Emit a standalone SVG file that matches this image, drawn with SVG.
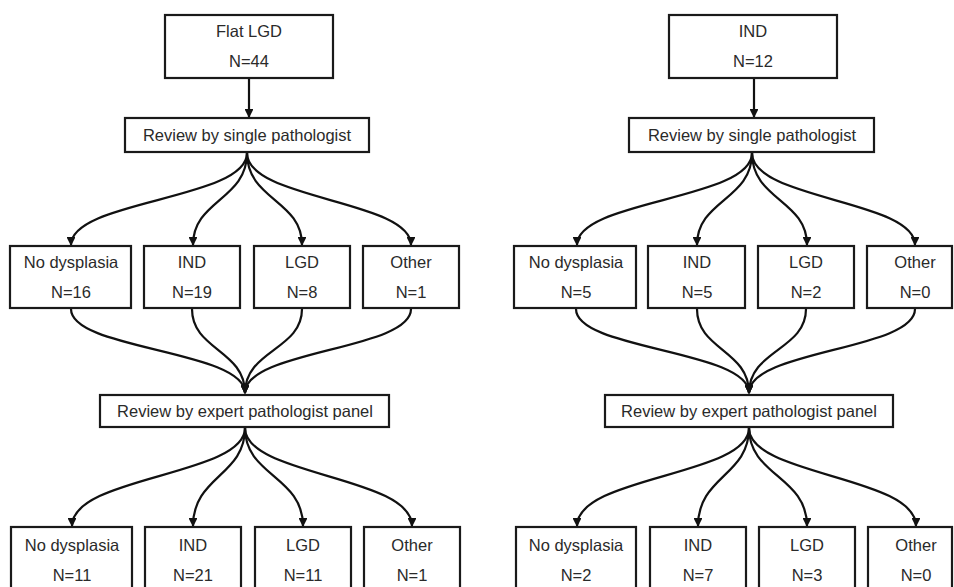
<svg xmlns="http://www.w3.org/2000/svg" width="954" height="587" viewBox="0 0 954 587">
<style>
.box{fill:#fff;stroke:#1a1a1a;stroke-width:2.2}
.t{font-family:"Liberation Sans",Arial,sans-serif;font-size:16.5px;fill:#2a2a2a;text-anchor:middle}
.c{fill:none;stroke:#111;stroke-width:2.2;marker-end:url(#ah)}
</style>
<defs>
<marker id="ah" viewBox="0 0 10 10" refX="9" refY="5" markerWidth="4" markerHeight="4" orient="auto" markerUnits="strokeWidth">
<path d="M0,0 L10,5 L0,10 z" fill="#111"/>
</marker>
</defs>
<rect width="954" height="587" fill="#fff"/>
<g id="connectors">
<!-- left -->
<path class="c" d="M249,79 L249,117"/>
<path class="c" d="M247,153 C247,200 71,200 71,245"/>
<path class="c" d="M247,153 C247,200 193,200 193,245"/>
<path class="c" d="M247,153 C247,200 302,200 302,245"/>
<path class="c" d="M247,153 C247,200 411,200 411,245"/>
<path class="c" d="M71,309 C71,350 245,350 245,393"/>
<path class="c" d="M192,309 C192,350 245,350 245,393"/>
<path class="c" d="M302,309 C302,350 245,350 245,393"/>
<path class="c" d="M411,309 C411,350 245,350 245,393"/>
<path class="c" d="M245,428 C245,476 72,476 72,526"/>
<path class="c" d="M245,428 C245,476 193,476 193,526"/>
<path class="c" d="M245,428 C245,476 303,476 303,526"/>
<path class="c" d="M245,428 C245,476 412,476 412,526"/>
<!-- right -->
<path class="c" d="M754,79 L754,117"/>
<path class="c" d="M752,153 C752,200 577,200 577,245"/>
<path class="c" d="M752,153 C752,200 697,200 697,245"/>
<path class="c" d="M752,153 C752,200 807,200 807,245"/>
<path class="c" d="M752,153 C752,200 915,200 915,245"/>
<path class="c" d="M576,309 C576,350 749,350 749,393"/>
<path class="c" d="M697,309 C697,350 749,350 749,393"/>
<path class="c" d="M806,309 C806,350 749,350 749,393"/>
<path class="c" d="M915,309 C915,350 749,350 749,393"/>
<path class="c" d="M749,428 C749,476 577,476 577,526"/>
<path class="c" d="M749,428 C749,476 698,476 698,526"/>
<path class="c" d="M749,428 C749,476 807,476 807,526"/>
<path class="c" d="M749,428 C749,476 916,476 916,526"/>
</g>
<g id="L-top"><rect class="box" x="165" y="15" width="168" height="63"/><text class="t" x="249" y="37">Flat LGD</text><text class="t" x="249" y="67">N=44</text></g>
<g id="L-single"><rect class="box" x="125" y="118" width="244" height="34"/><text class="t" x="247" y="141">Review by single pathologist</text></g>
<g id="L-s-nodys"><rect class="box" x="10" y="246" width="121" height="62"/><text class="t" x="71" y="268">No dysplasia</text><text class="t" x="71" y="298">N=16</text></g>
<g id="L-s-ind"><rect class="box" x="144" y="246" width="96" height="62"/><text class="t" x="192" y="268">IND</text><text class="t" x="192" y="298">N=19</text></g>
<g id="L-s-lgd"><rect class="box" x="254" y="246" width="96" height="62"/><text class="t" x="302" y="268">LGD</text><text class="t" x="302" y="298">N=8</text></g>
<g id="L-s-other"><rect class="box" x="363" y="246" width="96" height="62"/><text class="t" x="411" y="268">Other</text><text class="t" x="411" y="298">N=1</text></g>
<g id="L-expert"><rect class="box" x="100" y="395" width="289" height="32"/><text class="t" x="245" y="417">Review by expert pathologist panel</text></g>
<g id="L-e-nodys"><rect class="box" x="11" y="527" width="121" height="80"/><text class="t" x="72" y="551">No dysplasia</text><text class="t" x="72" y="581">N=11</text></g>
<g id="L-e-ind"><rect class="box" x="145" y="527" width="96" height="80"/><text class="t" x="193" y="551">IND</text><text class="t" x="193" y="581">N=21</text></g>
<g id="L-e-lgd"><rect class="box" x="255" y="527" width="96" height="80"/><text class="t" x="303" y="551">LGD</text><text class="t" x="303" y="581">N=11</text></g>
<g id="L-e-other"><rect class="box" x="364" y="527" width="96" height="80"/><text class="t" x="412" y="551">Other</text><text class="t" x="412" y="581">N=1</text></g>
<g id="R-top"><rect class="box" x="669" y="15" width="168" height="63"/><text class="t" x="753" y="37">IND</text><text class="t" x="753" y="67">N=12</text></g>
<g id="R-single"><rect class="box" x="629" y="118" width="245" height="34"/><text class="t" x="752" y="141">Review by single pathologist</text></g>
<g id="R-s-nodys"><rect class="box" x="514" y="246" width="122" height="62"/><text class="t" x="576" y="268">No dysplasia</text><text class="t" x="576" y="298">N=5</text></g>
<g id="R-s-ind"><rect class="box" x="648" y="246" width="97" height="62"/><text class="t" x="697" y="268">IND</text><text class="t" x="697" y="298">N=5</text></g>
<g id="R-s-lgd"><rect class="box" x="758" y="246" width="96" height="62"/><text class="t" x="806" y="268">LGD</text><text class="t" x="806" y="298">N=2</text></g>
<g id="R-s-other"><rect class="box" x="867" y="246" width="85" height="62"/><text class="t" x="915" y="268">Other</text><text class="t" x="915" y="298">N=0</text></g>
<g id="R-expert"><rect class="box" x="605" y="395" width="288" height="32"/><text class="t" x="749" y="417">Review by expert pathologist panel</text></g>
<g id="R-e-nodys"><rect class="box" x="516" y="527" width="120" height="80"/><text class="t" x="576" y="551">No dysplasia</text><text class="t" x="576" y="581">N=2</text></g>
<g id="R-e-ind"><rect class="box" x="650" y="527" width="96" height="80"/><text class="t" x="698" y="551">IND</text><text class="t" x="698" y="581">N=7</text></g>
<g id="R-e-lgd"><rect class="box" x="759" y="527" width="96" height="80"/><text class="t" x="807" y="551">LGD</text><text class="t" x="807" y="581">N=3</text></g>
<g id="R-e-other"><rect class="box" x="868" y="527" width="84" height="80"/><text class="t" x="916" y="551">Other</text><text class="t" x="916" y="581">N=0</text></g>
</svg>
